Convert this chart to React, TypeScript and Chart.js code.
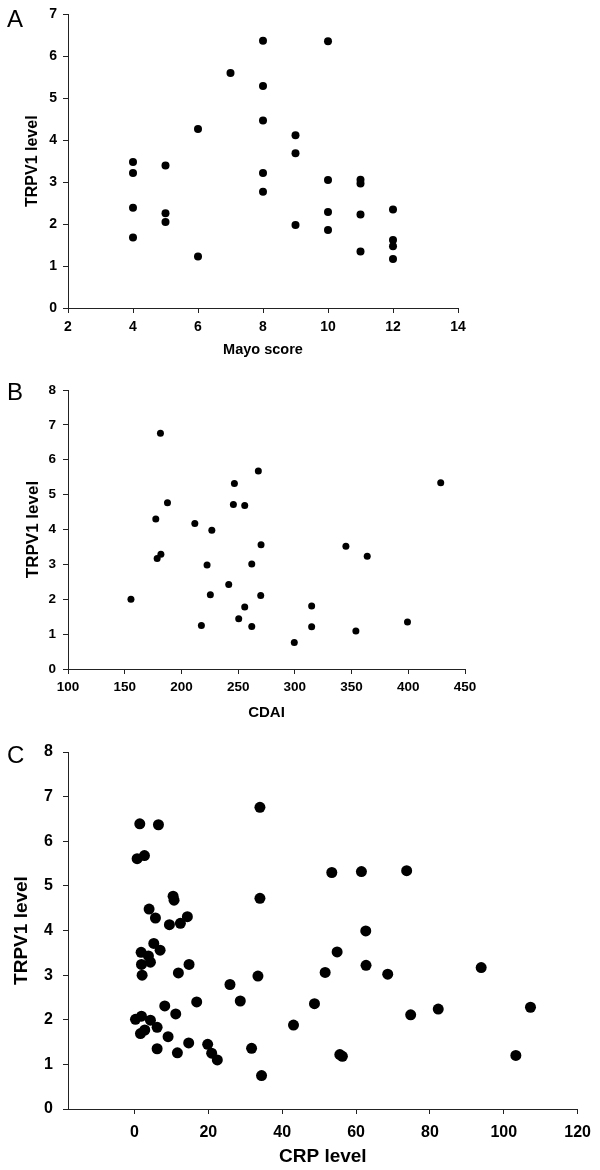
import React, { useEffect, useRef } from "react";
import { Chart, registerables } from "chart.js";

Chart.register(...registerables);

const FONT = "'Liberation Sans', Arial, Helvetica, sans-serif";

// Panel A: Mayo score vs TRPV1 level
const mayoScore = [4, 4, 4, 4, 5, 5, 5, 6, 6, 7, 8, 8, 8, 8, 8, 9, 9, 9, 10, 10, 10, 10, 11, 11, 11, 11, 12, 12, 12, 12];
const mayoTrpv1 = [3.48, 3.22, 2.39, 1.68, 3.4, 2.26, 2.05, 4.27, 1.23, 5.6, 6.37, 5.29, 4.47, 3.22, 2.77, 4.12, 3.69, 1.98, 6.36, 3.05, 2.29, 1.86, 3.06, 2.97, 2.23, 1.35, 2.35, 1.62, 1.47, 1.17];

// Panel B: CDAI vs TRPV1 level
const cdai = [155.5, 181.5, 187.7, 177.4, 178.6, 181.9, 211.8, 226.8, 222.6, 225.5, 217.6, 241.7, 246.7, 245.8, 255.8, 267.8, 270.2, 262, 269.9, 255.8, 250.5, 262, 299.5, 428.6, 345, 363.8, 314.8, 314.8, 353.8, 399.3];
const cdaiTrpv1 = [2.0, 6.76, 4.77, 4.3, 3.17, 3.29, 4.17, 3.98, 2.98, 2.13, 1.25, 2.42, 5.32, 4.72, 4.69, 5.68, 3.56, 3.01, 2.11, 1.78, 1.44, 1.22, 0.76, 5.34, 3.52, 3.23, 1.81, 1.21, 1.09, 1.35];

// Panel C: CRP level vs TRPV1 level
const crp = [1.44, 6.49, 0.72, 2.7, 33.97, 33.97, 10.46, 10.72, 3.96, 5.68, 9.46, 12.43, 14.32, 5.23, 6.94, 1.8, 3.78, 4.32, 1.89, 2.07, 14.78, 11.89, 33.43, 25.86, 28.65, 16.85, 8.2, 11.17, 0.27, 1.89, 4.32, 1.62, 2.79, 6.13, 9.1, 6.13, 11.62, 14.68, 19.82, 20.9, 22.43, 31.71, 34.41, 43.06, 53.43, 61.45, 73.7, 62.63, 54.87, 62.7, 51.63, 68.57, 93.88, 48.74, 74.79, 82.25, 107.23, 55.6, 56.3, 103.26];
const crpTrpv1 = [6.39, 6.37, 5.61, 5.68, 6.76, 4.72, 4.77, 4.68, 4.48, 4.28, 4.13, 4.16, 4.31, 3.71, 3.56, 3.51, 3.43, 3.29, 3.24, 3.0, 3.24, 3.05, 2.98, 2.79, 2.42, 2.4, 2.31, 2.13, 2.01, 2.08, 1.99, 1.69, 1.77, 1.83, 1.62, 1.35, 1.26, 1.48, 1.45, 1.25, 1.1, 1.36, 0.75, 1.88, 5.3, 5.32, 5.34, 3.99, 3.52, 3.22, 3.06, 3.02, 3.17, 2.36, 2.11, 2.24, 2.28, 1.22, 1.18, 1.2];

const crpTicks = [0, 20, 40, 60, 80, 100, 120];

type PanelCfg = {
  xs: number[];
  ys: number[];
  width: number;
  height: number;
  pad: { top: number; right: number };
  xMin: number;
  xMax: number;
  xStep: number;
  xTicks?: number[];
  yMax: number;
  xTitle: string;
  yTitle: string;
  tickFont: number;
  xTitleFont: number;
  yTitleFont: number;
  xAxisHeight: number;
  xTickPad: number;
  yTickPad: number;
  xTitlePad: number;
  yTitlePad: number;
  radius: number;
};

function Panel({ cfg }: { cfg: PanelCfg }) {
  const ref = useRef<HTMLCanvasElement | null>(null);
  useEffect(() => {
    if (!ref.current) return;
    const points = cfg.xs.map((x, i) => ({ x, y: cfg.ys[i] }));
    const chart = new Chart(ref.current, {
      type: "scatter",
      data: {
        datasets: [
          {
            data: points,
            backgroundColor: "#000",
            borderWidth: 0,
            pointRadius: cfg.radius,
            pointHoverRadius: cfg.radius,
          },
        ],
      },
      options: {
        responsive: false,
        animation: false,
        devicePixelRatio: 1,
        layout: { padding: { top: cfg.pad.top, right: cfg.pad.right, left: 0, bottom: 0 } },
        plugins: { legend: { display: false }, tooltip: { enabled: false } },
        scales: {
          x: {
            type: "linear",
            min: cfg.xMin,
            max: cfg.xMax,
            afterFit: (s: any) => {
              s.height = cfg.xAxisHeight;
            },
            afterBuildTicks: cfg.xTicks
              ? (s: any) => {
                  s.ticks = cfg.xTicks!.map((v) => ({ value: v }));
                }
              : undefined,
            ticks: {
              stepSize: cfg.xStep,
              color: "#000",
              padding: cfg.xTickPad,
              maxRotation: 0,
              font: { family: FONT, size: cfg.tickFont, weight: "bold" },
            },
            grid: { drawOnChartArea: false, drawTicks: true, tickLength: 5, color: "#222" },
            border: { display: true, color: "#222", width: 1 },
            title: {
              display: true,
              text: cfg.xTitle,
              color: "#000",
              padding: { top: 0, bottom: cfg.xTitlePad },
              font: { family: FONT, size: cfg.xTitleFont, weight: "bold" },
            },
          },
          y: {
            type: "linear",
            min: 0,
            max: cfg.yMax,
            afterFit: (s: any) => {
              s.width = 68;
            },
            ticks: {
              stepSize: 1,
              color: "#000",
              padding: cfg.yTickPad,
              font: { family: FONT, size: cfg.tickFont, weight: "bold" },
            },
            grid: { drawOnChartArea: false, drawTicks: true, tickLength: 5, color: "#222" },
            border: { display: true, color: "#222", width: 1 },
            title: {
              display: true,
              text: cfg.yTitle,
              color: "#000",
              padding: { top: cfg.yTitlePad, bottom: 0 },
              font: { family: FONT, size: cfg.yTitleFont, weight: "bold" },
            },
          },
        },
      } as any,
    });
    return () => chart.destroy();
  }, [cfg]);
  return <canvas ref={ref} width={cfg.width} height={cfg.height} style={{ display: "block" }} />;
}

const panelA: PanelCfg = {
  xs: mayoScore,
  ys: mayoTrpv1,
  width: 600,
  height: 370,
  pad: { top: 14, right: 142 },
  xMin: 2,
  xMax: 14,
  xStep: 2,
  yMax: 7,
  xTitle: "Mayo score",
  yTitle: "TRPV1 level",
  tickFont: 14,
  xTitleFont: 14.5,
  yTitleFont: 16,
  xAxisHeight: 62,
  xTickPad: 6,
  yTickPad: 6,
  xTitlePad: 11,
  yTitlePad: 23,
  radius: 4,
};

const panelB: PanelCfg = {
  xs: cdai,
  ys: cdaiTrpv1,
  width: 600,
  height: 360,
  pad: { top: 20, right: 135 },
  xMin: 100,
  xMax: 450,
  xStep: 50,
  yMax: 8,
  xTitle: "CDAI",
  yTitle: "TRPV1 level",
  tickFont: 13.5,
  xTitleFont: 15,
  yTitleFont: 17,
  xAxisHeight: 61,
  xTickPad: 5,
  yTickPad: 7,
  xTitlePad: 8,
  yTitlePad: 23,
  radius: 3.5,
};

const panelC: PanelCfg = {
  xs: crp,
  ys: crpTrpv1,
  width: 600,
  height: 440,
  pad: { top: 22, right: 21 },
  xMin: -18,
  xMax: 120,
  xStep: 20,
  xTicks: crpTicks,
  yMax: 8,
  xTitle: "CRP level",
  yTitle: "TRPV1 level",
  tickFont: 16,
  xTitleFont: 19,
  yTitleFont: 19,
  xAxisHeight: 61,
  xTickPad: 9,
  yTickPad: 10,
  xTitlePad: 2,
  yTitlePad: 10,
  radius: 5.5,
};

const letterStyle = (top: number): React.CSSProperties => ({
  position: "absolute",
  left: 7,
  top,
  fontFamily: FONT,
  fontSize: 24,
  lineHeight: "24px",
  color: "#000",
});

export default function App() {
  return (
    <div style={{ position: "absolute", left: 0, top: 0, width: 600, height: 1170, background: "#fff", overflow: "hidden" }}>
      <div style={{ position: "absolute", left: 0, top: 0 }}>
        <Panel cfg={panelA} />
      </div>
      <div style={{ position: "absolute", left: 0, top: 370 }}>
        <Panel cfg={panelB} />
      </div>
      <div style={{ position: "absolute", left: 0, top: 730 }}>
        <Panel cfg={panelC} />
      </div>
      <div style={letterStyle(7)}>A</div>
      <div style={letterStyle(380)}>B</div>
      <div style={letterStyle(743)}>C</div>
    </div>
  );
}
